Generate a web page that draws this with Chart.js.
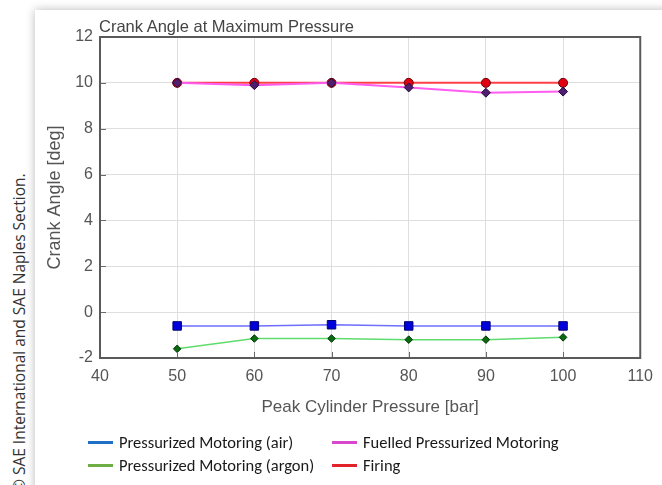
<!DOCTYPE html>
<html>
<head>
<meta charset="utf-8">
<script src="https://cdn.jsdelivr.net/npm/chart.js@4/dist/chart.umd.min.js"></script>
<style>
  html, body { margin: 0; padding: 0; background: #ffffff; }
  #wrap { position: relative; width: 662px; height: 485px; overflow: hidden; background: #fff; }
  #card { position: absolute; left: 35px; top: 10px; width: 640px; height: 490px; background: #fff;
          box-shadow: 0 0 9px rgba(0,0,0,0.28); }
  #cv { position: absolute; left: 0; top: 0; }
  #title { position: absolute; left: 99px; top: 17px; font: 16.5px "Liberation Sans", Arial, sans-serif;
           color: #444; white-space: nowrap; }
  #copy { position: absolute; left: 0; top: 0; transform-origin: 0 0; transform: translate(8px, 492px) rotate(-90deg);
          font: 15.5px "Open Sans", sans-serif; color: #333; white-space: nowrap; }
  .lg { position: absolute; font: 16.5px Carlito, Lato, sans-serif; color: #1a1a1a; white-space: nowrap; line-height: 20px; }
  .sw { position: absolute; height: 3px; width: 25px; }
</style>
</head>
<body>
<div id="wrap">
  <div id="card"></div>
  <div id="copy">© SAE International and SAE Naples Section.</div>
  <canvas id="cv" width="662" height="485"></canvas>
  <div id="title">Crank Angle at Maximum Pressure</div>
  <div class="sw" style="left:88px; top:441px; background:#1f6fc4;"></div>
  <div class="lg" style="left:119px; top:432px;">Pressurized Motoring (air)</div>
  <div class="sw" style="left:332px; top:441px; background:#d748cc;"></div>
  <div class="lg" style="left:363px; top:432px;">Fuelled Pressurized Motoring</div>
  <div class="sw" style="left:88px; top:464px; background:#6fae45;"></div>
  <div class="lg" style="left:119px; top:455px;">Pressurized Motoring (argon)</div>
  <div class="sw" style="left:332px; top:464px; background:#e3232b;"></div>
  <div class="lg" style="left:363px; top:455px;">Firing</div>
</div>
<script>
const pressures = [50, 60, 70, 80, 90, 100];
const airValues = [-0.6, -0.6, -0.55, -0.6, -0.6, -0.6];
const argonValues = [-1.6, -1.15, -1.15, -1.2, -1.2, -1.1];
const fuelledValues = [10, 9.9, 10, 9.8, 9.57, 9.62];
const firingValues = [10, 10, 10, 10, 10, 10];
const xTicks = [40, 50, 60, 70, 80, 90, 100, 110];
const yTicks = [-2, 0, 2, 4, 6, 8, 10, 12];

const pts = arr => pressures.map((p, i) => ({x: p, y: arr[i]}));

const boxPlugin = {
  id: 'box',
  afterDatasetsDraw(chart) {
    const {ctx, chartArea: a, scales} = chart;
    ctx.save();
    ctx.strokeStyle = '#6a6a6a';
    ctx.lineWidth = 1;
    ctx.beginPath();
    yTicks.forEach(v => {
      const y = Math.round(scales.y.getPixelForValue(v)) + 0.5;
      ctx.moveTo(a.left, y); ctx.lineTo(a.left + 6, y);
    });
    xTicks.forEach(v => {
      const x = Math.round(scales.x.getPixelForValue(v)) + 0.5;
      ctx.moveTo(x, a.bottom); ctx.lineTo(x, a.bottom - 6);
    });
    ctx.stroke();
    ctx.strokeStyle = '#5a5a5a';
    ctx.lineWidth = 2;
    ctx.strokeRect(a.left, a.top, a.right - a.left, a.bottom - a.top);
    ctx.restore();
  }
};

new Chart(document.getElementById('cv'), {
  type: 'line',
  data: {
    datasets: [
      { label: 'Fuelled Pressurized Motoring', data: pts(fuelledValues), borderColor: '#ff5cf0', borderWidth: 2,
        pointStyle: 'rectRot', pointRadius: 4.5, pointBackgroundColor: '#4e1f6e', pointBorderColor: '#2a0a40', pointBorderWidth: 1, order: 0 },
      { label: 'Firing', data: pts(firingValues), borderColor: '#ff3f45', borderWidth: 2,
        pointStyle: 'circle', pointRadius: 4.5, pointBackgroundColor: '#e00010', pointBorderColor: '#6a0010', pointBorderWidth: 1, order: 1 },
      { label: 'Pressurized Motoring (air)', data: pts(airValues), borderColor: '#6e6eff', borderWidth: 1.5,
        pointStyle: 'rect', pointRadius: 6, pointBackgroundColor: '#0000dd', pointBorderColor: '#000070', pointBorderWidth: 1, order: 2 },
      { label: 'Pressurized Motoring (argon)', data: pts(argonValues), borderColor: '#5fdc6e', borderWidth: 1.5,
        pointStyle: 'rectRot', pointRadius: 3.8, pointBackgroundColor: '#0a6a12', pointBorderColor: '#033a08', pointBorderWidth: 1, order: 3 }
    ]
  },
  options: {
    responsive: false,
    animation: false,
    events: [],
    layout: { padding: { left: 0, right: 21, top: 37, bottom: 65 } },
    plugins: { legend: { display: false }, tooltip: { enabled: false } },
    elements: { line: { tension: 0 } },
    scales: {
      x: {
        type: 'linear', min: 40, max: 110,
        afterBuildTicks: s => { s.ticks = xTicks.map(v => ({value: v})); },
        afterFit: s => { s.height = 62; },
        grid: { color: '#dedede', drawTicks: false, lineWidth: 1 },
        border: { display: false },
        ticks: { padding: 9, color: '#555', font: { family: '"Liberation Sans", Arial', size: 16 } },
        title: { display: true, text: 'Peak Cylinder Pressure [bar]', color: '#555',
                 font: { family: '"Liberation Sans", Arial', size: 17 }, padding: { top: 0, bottom: 2 } }
      },
      y: {
        type: 'linear', min: -2, max: 12,
        afterBuildTicks: s => { s.ticks = yTicks.map(v => ({value: v})); },
        afterFit: s => { s.width = 100; },
        grid: { color: '#dedede', drawTicks: false, lineWidth: 1 },
        border: { display: false },
        ticks: { padding: 7, color: '#555', font: { family: '"Liberation Sans", Arial', size: 16 } },
        title: { display: true, text: 'Crank Angle [deg]', color: '#555',
                 font: { family: '"Liberation Sans", Arial', size: 18 }, padding: { top: 44, bottom: 0 } }
      }
    }
  },
  plugins: [boxPlugin]
});
</script>
</body>
</html>
